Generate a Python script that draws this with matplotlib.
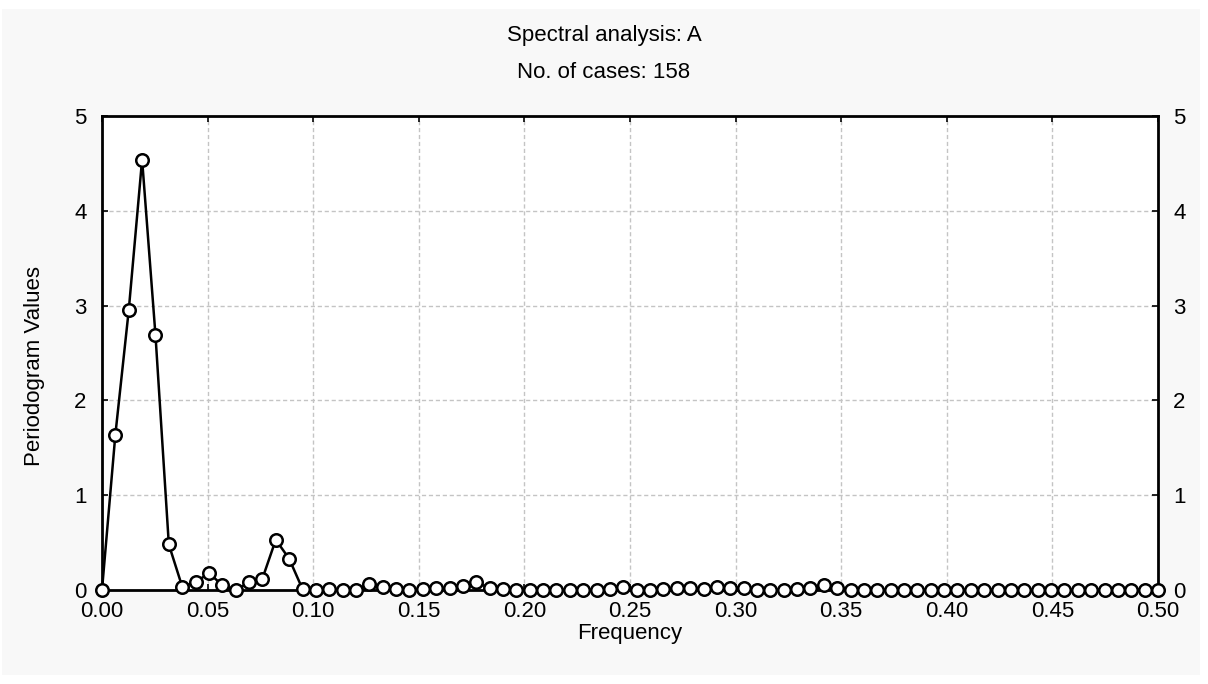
import matplotlib.pyplot as plt
from matplotlib.patches import Rectangle
import numpy as np

plt.rcParams['font.family'] = ['Liberation Sans', 'DejaVu Sans']

# periodogram values, one per frequency k/158, k = 0..79
n_cases = 158
periodogram = [0.0, 1.64, 2.95, 4.54, 2.69, 0.48, 0.035, 0.08, 0.18, 0.05,
               0.0, 0.08, 0.12, 0.53, 0.33, 0.01, 0.005, 0.01, 0.0, 0.0,
               0.06, 0.035, 0.01, 0.0, 0.01, 0.02, 0.02, 0.04, 0.08, 0.02,
               0.01, 0.0, 0.005, 0.0, 0.005, 0.0, 0.005, 0.0, 0.01, 0.035,
               0.005, 0.0, 0.01, 0.025, 0.025, 0.01, 0.03, 0.025, 0.025, 0.005,
               0.005, 0.0, 0.01, 0.02, 0.05, 0.025, 0.005, 0.0, 0.005, 0.0,
               0.005, 0.005, 0.0, 0.005, 0.005, 0.0, 0.005, 0.005, 0.0, 0.005,
               0.0, 0.005, 0.005, 0.0, 0.005, 0.005, 0.0, 0.005, 0.005, 0.0]
freq = np.arange(len(periodogram)) / n_cases

x_ticks = np.arange(0, 0.501, 0.05)
y_ticks = [0, 1, 2, 3, 4, 5]

FS = 16

fig = plt.figure(figsize=(12.08, 6.84), dpi=100, facecolor='white')
fig.patches.append(Rectangle((2 / 1208, 9 / 684), 1198 / 1208, 666 / 684,
                             transform=fig.transFigure, facecolor='#f8f8f8',
                             edgecolor='none', zorder=-1))

ax = fig.add_axes([102 / 1208, 1 - 590 / 684, 1056 / 1208, 474 / 684])
ax.set_facecolor('white')

ax.plot(freq, periodogram, color='black', lw=1.8, marker='o', ms=9,
        mfc='white', mec='black', mew=1.8, clip_on=False, zorder=3)

ax.set_xlim(0, 0.5)
ax.set_ylim(0, 5)
ax.set_xticks(x_ticks)
ax.set_xticklabels(['%.2f' % t for t in x_ticks])
ax.set_yticks(y_ticks)
ax.grid(True, color='#c4c4c4', linestyle=(0, (3, 2)), lw=1.0)
ax.set_axisbelow(True)

for s in ax.spines.values():
    s.set_linewidth(2.0)
    s.set_color('black')

ax.tick_params(axis='both', direction='in', length=4, width=1.2, labelsize=FS,
               top=True, right=True, labelright=True)
ax.tick_params(axis='x', pad=8)
ax.tick_params(axis='y', pad=11)

ax.set_xlabel('Frequency', fontsize=FS)
ax.set_ylabel('Periodogram Values', fontsize=FS)
ax.xaxis.label.set_va('center')
ax.yaxis.label.set_va('center')
ax.xaxis.set_label_coords(0.5, -(634 - 590) / 474)
ax.yaxis.set_label_coords(-(102 - 35) / 1056, (590 - 366) / 474)

fig.text(0.5, 1 - 35 / 684, 'Spectral analysis: A', ha='center', va='center', fontsize=FS)
fig.text(0.5, 1 - 72 / 684, 'No. of cases: 158', ha='center', va='center', fontsize=FS)

fig.savefig('out.png', dpi=100, facecolor=fig.get_facecolor())
